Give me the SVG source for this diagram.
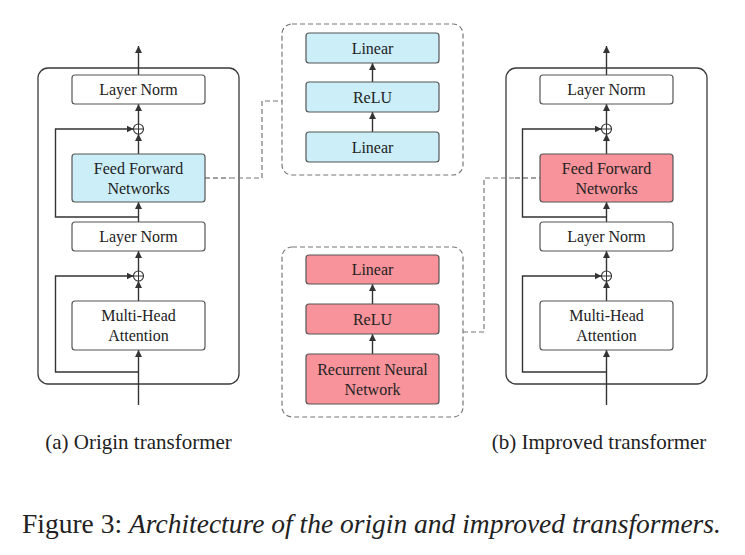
<svg xmlns="http://www.w3.org/2000/svg" width="745" height="555" viewBox="0 0 745 555">
<style>
.panel{fill:none;stroke:#3a3a3a;stroke-width:1.3}
.box{fill:#fff;stroke:#555;stroke-width:1.2}
.blue{fill:#CCEEF9;stroke:#555;stroke-width:1.2}
.pink{fill:#F8929B;stroke:#555;stroke-width:1.2}
.dbox{fill:none;stroke:#777;stroke-width:1.2;stroke-dasharray:5,3}
.ln{fill:none;stroke:#333;stroke-width:1.4}
.dash{fill:none;stroke:#444;stroke-width:1.2;stroke-dasharray:5,3}
.dashg{fill:none;stroke:#777;stroke-width:1.2;stroke-dasharray:5,3}
.t{font-family:"Liberation Serif","Times New Roman",serif;font-size:16px;fill:#222;text-anchor:middle}
.cap{font-family:"Liberation Serif","Times New Roman",serif;font-size:21px;fill:#222;text-anchor:middle}
.fig{font-family:"Liberation Serif","Times New Roman",serif;font-size:27.5px;fill:#222}
.plus{fill:#fff;stroke:#333;stroke-width:1.1}
</style>
<defs>
<marker id="ah" viewBox="0 0 10 10" refX="10" refY="5" markerWidth="7" markerHeight="7" markerUnits="userSpaceOnUse" orient="auto">
<path d="M0,0 L10,5 L0,10 z" fill="#333"/>
</marker>
</defs>

<g id="panel-a">
<rect class="panel" x="38" y="68" width="201" height="316" rx="10"/>
</g>
<g id="panel-b">
<rect class="panel" x="506" y="68" width="201" height="316" rx="10"/>
</g>

<g id="connectors">
<line class="ln" x1="138.5" y1="405" x2="138.5" y2="350" marker-end="url(#ah)"/>
<line class="ln" x1="138.5" y1="301" x2="138.5" y2="281" marker-end="url(#ah)"/>
<line class="ln" x1="138.5" y1="271" x2="138.5" y2="251" marker-end="url(#ah)"/>
<line class="ln" x1="138.5" y1="222" x2="138.5" y2="202" marker-end="url(#ah)"/>
<line class="ln" x1="138.5" y1="154" x2="138.5" y2="134" marker-end="url(#ah)"/>
<line class="ln" x1="138.5" y1="124" x2="138.5" y2="104" marker-end="url(#ah)"/>
<line class="ln" x1="138.5" y1="75" x2="138.5" y2="46" marker-end="url(#ah)"/>
<path class="ln" d="M138.5,372 H55.5 V276 H133.5" marker-end="url(#ah)"/>
<path class="ln" d="M138.5,217 H55.5 V129 H133.5" marker-end="url(#ah)"/>
<line class="ln" x1="606.5" y1="405" x2="606.5" y2="350" marker-end="url(#ah)"/>
<line class="ln" x1="606.5" y1="301" x2="606.5" y2="281" marker-end="url(#ah)"/>
<line class="ln" x1="606.5" y1="271" x2="606.5" y2="251" marker-end="url(#ah)"/>
<line class="ln" x1="606.5" y1="222" x2="606.5" y2="202" marker-end="url(#ah)"/>
<line class="ln" x1="606.5" y1="154" x2="606.5" y2="134" marker-end="url(#ah)"/>
<line class="ln" x1="606.5" y1="124" x2="606.5" y2="104" marker-end="url(#ah)"/>
<line class="ln" x1="606.5" y1="75" x2="606.5" y2="46" marker-end="url(#ah)"/>
<path class="ln" d="M606.5,372 H522.5 V276 H601.5" marker-end="url(#ah)"/>
<path class="ln" d="M606.5,217 H522.5 V129 H601.5" marker-end="url(#ah)"/>
<line class="ln" x1="372.5" y1="132" x2="372.5" y2="112" marker-end="url(#ah)"/>
<line class="ln" x1="372.5" y1="82" x2="372.5" y2="63" marker-end="url(#ah)"/>
<line class="ln" x1="372.5" y1="354" x2="372.5" y2="334" marker-end="url(#ah)"/>
<line class="ln" x1="372.5" y1="304" x2="372.5" y2="284" marker-end="url(#ah)"/>
<path class="dash" d="M205,178 H230"/>
<path class="dashg" d="M230,178 H262 V101 H282"/>
<path class="dashg" d="M463,332 H484 V178 H515"/>
<path class="dash" d="M515,178 H540"/>
</g>

<g id="sum-a1"><circle class="plus" cx="138.5" cy="129" r="5"/><path class="ln" d="M133.5,129 H143.5 M138.5,124 V134" style="stroke-width:1"/></g>
<g id="sum-a2"><circle class="plus" cx="138.5" cy="276" r="5"/><path class="ln" d="M133.5,276 H143.5 M138.5,271 V281" style="stroke-width:1"/></g>
<g id="sum-b1"><circle class="plus" cx="606.5" cy="129" r="5"/><path class="ln" d="M601.5,129 H611.5 M606.5,124 V134" style="stroke-width:1"/></g>
<g id="sum-b2"><circle class="plus" cx="606.5" cy="276" r="5"/><path class="ln" d="M601.5,276 H611.5 M606.5,271 V281" style="stroke-width:1"/></g>

<g id="a-ln-top"><rect class="box" x="72" y="75" width="133" height="29" rx="3"/><text class="t" x="138.5" y="95">Layer Norm</text></g>
<g id="a-ffn"><rect class="blue" x="72" y="154" width="133" height="48" rx="3"/><text class="t" x="138.5" y="173.5">Feed Forward</text><text class="t" x="138.5" y="193.5">Networks</text></g>
<g id="a-ln-mid"><rect class="box" x="72" y="222" width="133" height="29" rx="3"/><text class="t" x="138.5" y="242">Layer Norm</text></g>
<g id="a-mha"><rect class="box" x="72" y="301" width="133" height="49" rx="3"/><text class="t" x="138.5" y="321">Multi-Head</text><text class="t" x="138.5" y="341">Attention</text></g>

<g id="b-ln-top"><rect class="box" x="540" y="75" width="133" height="29" rx="3"/><text class="t" x="606.5" y="95">Layer Norm</text></g>
<g id="b-ffn"><rect class="pink" x="540" y="154" width="133" height="48" rx="3"/><text class="t" x="606.5" y="173.5">Feed Forward</text><text class="t" x="606.5" y="193.5">Networks</text></g>
<g id="b-ln-mid"><rect class="box" x="540" y="222" width="133" height="29" rx="3"/><text class="t" x="606.5" y="242">Layer Norm</text></g>
<g id="b-mha"><rect class="box" x="540" y="301" width="133" height="49" rx="3"/><text class="t" x="606.5" y="321">Multi-Head</text><text class="t" x="606.5" y="341">Attention</text></g>

<g id="ffn-detail"><rect class="dbox" x="282" y="24" width="181" height="151" rx="10"/></g>
<g id="m-linear2"><rect class="blue" x="306" y="33" width="133" height="30" rx="3"/><text class="t" x="372.5" y="53.5">Linear</text></g>
<g id="m-relu"><rect class="blue" x="306" y="82" width="133" height="30" rx="3"/><text class="t" x="372.5" y="102.5">ReLU</text></g>
<g id="m-linear1"><rect class="blue" x="306" y="132" width="133" height="30" rx="3"/><text class="t" x="372.5" y="152.5">Linear</text></g>

<g id="rnn-detail"><rect class="dbox" x="282" y="247" width="181" height="170" rx="10"/></g>
<g id="r-linear"><rect class="pink" x="306" y="255" width="133" height="29" rx="3"/><text class="t" x="372.5" y="275">Linear</text></g>
<g id="r-relu"><rect class="pink" x="306" y="304" width="133" height="30" rx="3"/><text class="t" x="372.5" y="324.5">ReLU</text></g>
<g id="r-rnn"><rect class="pink" x="306" y="354" width="133" height="50" rx="3"/><text class="t" x="372.5" y="374.5">Recurrent Neural</text><text class="t" x="372.5" y="394.5">Network</text></g>

<text class="cap" x="138.5" y="449">(a) Origin transformer</text>
<text class="cap" x="599" y="449">(b) Improved transformer</text>
<text class="fig" x="22" y="533">Figure 3: <tspan font-style="italic">Architecture of the origin and improved transformers.</tspan></text>
</svg>
